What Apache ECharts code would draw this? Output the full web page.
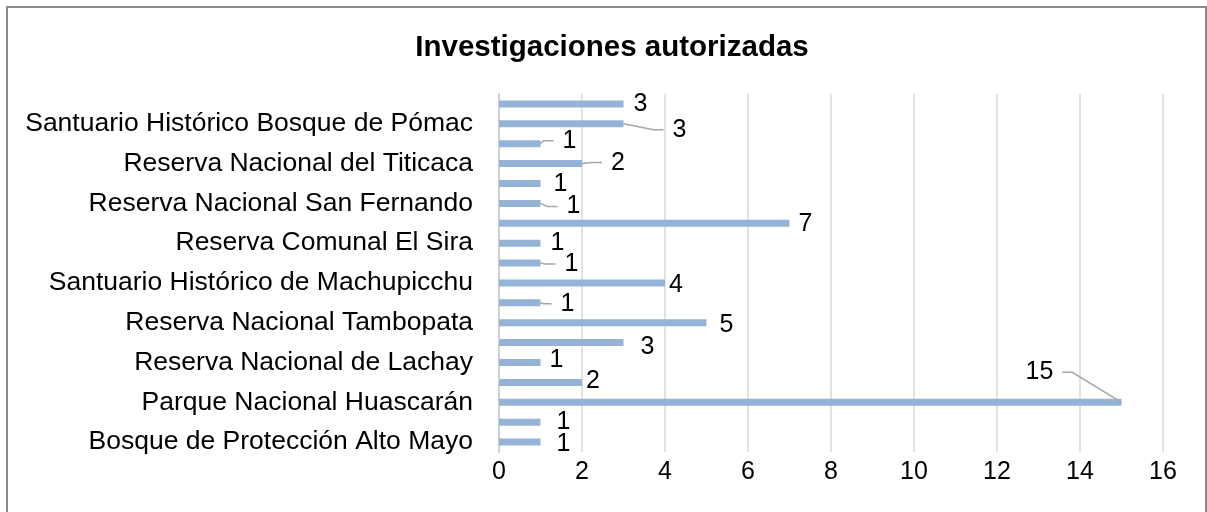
<!DOCTYPE html>
<html>
<head>
<meta charset="utf-8">
<script src="https://cdn.jsdelivr.net/npm/echarts@6/dist/echarts.min.js"></script>
<style>
  html, body { margin: 0; padding: 0; background: #fff; }
  #chart { width: 1207px; height: 512px; }
</style>
</head>
<body>
<div id="chart"></div>
<script>
// categorias de abajo hacia arriba; las vacias no llevan rotulo en el original
var categorias = [
    'Bosque de Protección Alto Mayo', '',
    'Parque Nacional Huascarán', '',
    'Reserva Nacional de Lachay', '',
    'Reserva Nacional Tambopata', '',
    'Santuario Histórico de Machupicchu', '',
    'Reserva Comunal El Sira', '',
    'Reserva Nacional San Fernando', '',
    'Reserva Nacional del Titicaca', '',
    'Santuario Histórico Bosque de Pómac', ''
];
var investigaciones = [1, 1, 15, 2, 1, 3, 5, 1, 4, 1, 1, 7, 1, 1, 2, 1, 3, 3];
var ticksX = [0, 2, 4, 6, 8, 10, 12, 14, 16];

// desplazamiento de cada etiqueta (como quedaron movidas en Excel)
var labelNudge = [
    [11, 2], [11, 0], [-101, -30], [-1, -1], [4, -2], [12, 4],
    [8, 2], [15, 1], [-1, 2], [19, 1], [5, 0], [4, 1],
    [21, 3], [8, 1], [24, -1], [17, -3], [44, 6], [5, 0]
];
// etiquetas que llevan linea guia
var conLinea = [2, 7, 9, 12, 14, 15, 16];

var LABEL_SIZE = 25;

window.onload = function () {
    showChart();
};

function showChart() {
    var myChart = echarts.init(document.getElementById('chart'));
    var fuente = 'Arial, "Liberation Sans", sans-serif';

    var option = {
        animation: false,
        textStyle: { fontFamily: fuente },
        title: {
            text: 'Investigaciones autorizadas',
            left: 607,
            textAlign: 'center',
            top: 28,
            textStyle: {
                fontFamily: fuente,
                fontSize: 29.5,
                fontWeight: 'bold',
                color: '#000'
            }
        },
        graphic: [{
            type: 'rect',
            shape: { x: 7, y: 7, width: 1199, height: 530 },
            style: { fill: null, stroke: '#8a8a8a', lineWidth: 2 },
            silent: true
        }],
        grid: {
            left: 499,
            right: 44,
            top: 94,
            bottom: 60
        },
        xAxis: {
            type: 'value',
            min: ticksX[0],
            max: ticksX[ticksX.length - 1],
            interval: ticksX[1] - ticksX[0],
            axisLine: { show: false },
            axisTick: { show: false },
            axisLabel: {
                fontSize: 25,
                color: '#000',
                margin: 8,
                fontFamily: fuente
            },
            splitLine: {
                lineStyle: { color: '#d9d9d9', width: 1.5 }
            }
        },
        yAxis: {
            type: 'category',
            data: categorias,
            axisTick: { show: false },
            axisLine: {
                lineStyle: { color: '#d0d0d0', width: 2 }
            },
            axisLabel: {
                interval: 0,
                fontSize: 26.5,
                color: '#000',
                margin: 26,
                fontFamily: fuente
            }
        },
        series: [{
            name: 'Investigaciones autorizadas',
            type: 'bar',
            barWidth: 7,
            itemStyle: { color: '#95b3d7' },
            label: {
                show: true,
                position: 'right',
                distance: 5,
                fontSize: LABEL_SIZE,
                color: '#000',
                fontFamily: fuente
            },
            labelLayout: function (p) {
                var n = labelNudge[p.dataIndex];
                return { dx: n[0], dy: n[1] };
            },
            data: investigaciones
        }, {
            // lineas guia desde el extremo de la barra hasta la etiqueta movida
            type: 'custom',
            silent: true,
            z: 3,
            encode: { x: 0, y: 1 },
            data: investigaciones.map(function (v, i) { return [v, i]; }),
            renderItem: function (params, api) {
                var i = params.dataIndex;
                if (conLinea.indexOf(i) < 0) {
                    return { type: 'group', children: [] };
                }
                var v = api.value(0);
                var end = api.coord([v, api.value(1)]);
                var n = labelNudge[i];
                var w = String(v).length * 0.556 * LABEL_SIZE;
                var left = end[0] + 5 + n[0];
                var y = end[1] + n[1];
                var p1, p2;
                if (n[0] < 0) {
                    p2 = [left + w + 9, y];
                    p1 = [p2[0] + 10, y];
                } else {
                    p2 = [left - 9, y];
                    p1 = [Math.max(end[0] + 3, p2[0] - 10), y];
                }
                return {
                    type: 'polyline',
                    shape: { points: [end, p1, p2] },
                    style: { stroke: '#a6a6a6', lineWidth: 1.5, fill: null }
                };
            }
        }]
    };

    myChart.setOption(option);
}
</script>
</body>
</html>
